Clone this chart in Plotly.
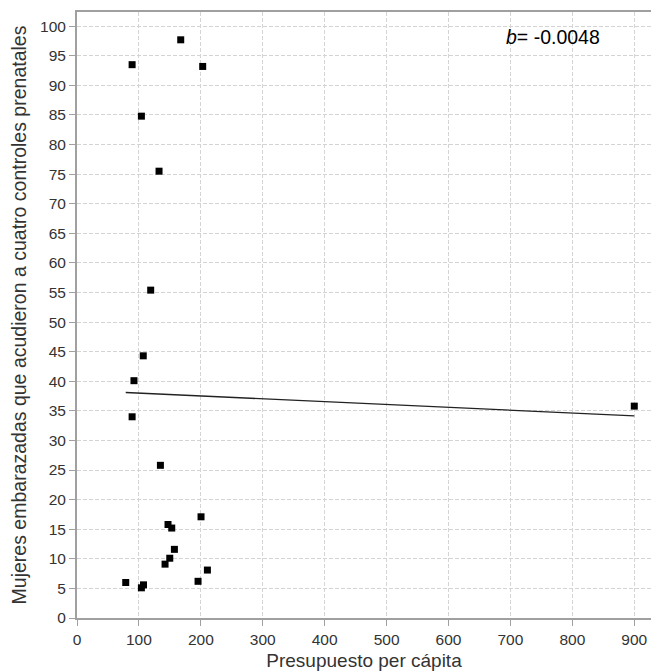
import plotly.graph_objects as go

# Data
presupuesto = [89, 167.5, 203, 104, 132.5, 119, 107, 92, 89, 134.7, 147, 153,
               200.3, 157.3, 149.8, 142.2, 210.6, 195.5, 78.7, 104, 107.4, 900]
mujeres = [93.5, 97.7, 93.2, 84.8, 75.5, 55.4, 44.3, 40.1, 34.0, 25.8, 15.8, 15.2,
           17.1, 11.6, 10.1, 9.1, 8.1, 6.2, 6.0, 5.1, 5.6, 35.8]
slope_b = -0.0048
intercept_a = 38.48

x_ticks = [0, 100, 200, 300, 400, 500, 600, 700, 800, 900]
y_ticks = list(range(0, 101, 5))

x0, x1 = min(presupuesto), max(presupuesto)
line_x = [x0, x1]
line_y = [intercept_a + slope_b * v for v in line_x]

FONT = "Liberation Sans, Arial, sans-serif"
GRID = dict(showgrid=True, gridcolor="#d4d4d4", griddash="4px,2px", gridwidth=1)

fig = go.Figure()
fig.add_trace(go.Scatter(x=line_x, y=line_y, mode="lines",
                         line=dict(color="#222222", width=1.3), hoverinfo="skip"))
fig.add_trace(go.Scatter(x=presupuesto, y=mujeres, mode="markers",
                         marker=dict(symbol="square", size=7, color="black",
                                     line=dict(width=0))))

fig.add_annotation(x=768, y=98.1, xref="x", yref="y", showarrow=False,
                   text="<i>b</i>= -0.0048",
                   font=dict(family=FONT, size=19.5, color="black"))

fig.update_layout(
    width=651, height=671,
    margin=dict(l=77, r=0, t=12, b=53),
    paper_bgcolor="white", plot_bgcolor="white",
    showlegend=False,
    font=dict(family=FONT, color="#333333"),
)
fig.update_xaxes(range=[0, 927], tickvals=x_ticks, ticktext=[str(v) for v in x_ticks],
                 automargin=False, **GRID,
                 zeroline=False, showline=True, linecolor="#a0a0a0", linewidth=2,
                 mirror=True, ticks="outside", ticklen=6, tickcolor="#a0a0a0",
                 tickfont=dict(size=15.5, color="#333333", family=FONT),
                 title=dict(text="Presupuesto per cápita", standoff=10,
                            font=dict(size=19, color="#333333", family=FONT)))
fig.update_yaxes(range=[0, 102.4], tickvals=y_ticks, ticktext=[str(v) for v in y_ticks],
                 automargin=False, **GRID,
                 zeroline=False, showline=True, linecolor="#a0a0a0", linewidth=2,
                 ticks="outside", ticklen=6, tickcolor="#a0a0a0",
                 tickfont=dict(size=15.5, color="#333333", family=FONT),
                 title=dict(text="Mujeres embarazadas que acudieron a cuatro controles prenatales",
                            standoff=8,
                            font=dict(size=19.5, color="#333333", family=FONT)))

fig.write_html(
    "out.html",
    config={"displayModeBar": False},
    post_script="document.body.style.margin='0';document.body.style.overflow='hidden';",
)
